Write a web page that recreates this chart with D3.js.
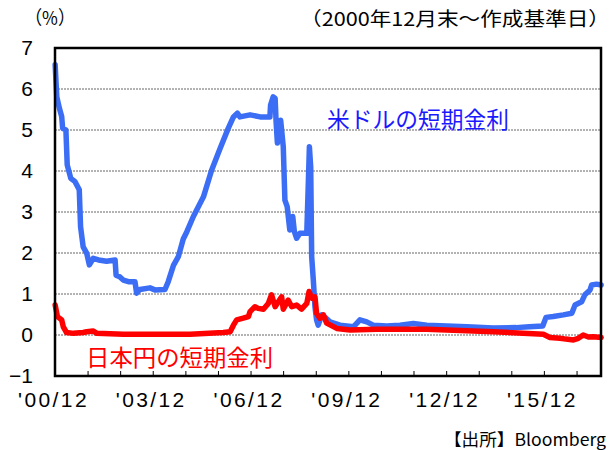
<!DOCTYPE html>
<html><head><meta charset="utf-8">
<script src="https://cdn.jsdelivr.net/npm/d3@7"></script>
<style>body{margin:0;background:#fff}svg{display:block}</style>
</head><body>
<svg id="c" width="613" height="450"></svg>
<script>
// ---- data (decimal year, %) ----
const usdT = [2000.92,2000.97,2001.05,2001.12,2001.15,2001.25,2001.29,2001.40,2001.53,2001.66,2001.70,2001.78,2001.89,2001.97,2002.09,2002.25,2002.50,2002.76,2002.79,2002.90,2003.01,2003.17,2003.37,2003.42,2003.52,2003.83,2003.98,2004.29,2004.39,2004.55,2004.70,2004.85,2004.96,2005.16,2005.47,2005.72,2005.98,2006.23,2006.39,2006.51,2006.59,2006.90,2007.21,2007.51,2007.53,2007.61,2007.67,2007.70,2007.74,2007.80,2007.84,2007.92,2007.97,2008.04,2008.12,2008.21,2008.26,2008.33,2008.43,2008.64,2008.69,2008.72,2008.76,2008.79,2008.84,2008.89,2008.94,2008.99,2009.10,2009.20,2009.35,2009.66,2010.07,2010.27,2010.48,2010.68,2011.09,2011.50,2011.91,2012.32,2012.93,2013.55,2014.36,2015.06,2015.47,2015.88,2015.98,2016.20,2016.51,2016.77,2016.87,2017.07,2017.17,2017.33,2017.38,2017.53,2017.67];
const usdV = [6.59,5.81,5.53,5.33,5.04,5.00,4.15,3.82,3.74,3.54,2.64,2.15,1.99,1.71,1.87,1.83,1.80,1.83,1.46,1.42,1.34,1.30,1.30,1.02,1.11,1.15,1.10,1.11,1.30,1.70,1.91,2.34,2.52,2.89,3.37,4.02,4.55,5.04,5.32,5.41,5.32,5.37,5.32,5.32,5.61,5.81,5.77,5.20,4.68,5.00,5.24,4.59,3.29,3.13,2.56,2.89,2.52,2.36,2.48,2.48,3.78,4.59,4.10,1.91,1.34,0.69,0.37,0.24,0.49,0.43,0.32,0.24,0.20,0.37,0.32,0.24,0.22,0.24,0.28,0.24,0.22,0.20,0.17,0.18,0.20,0.22,0.43,0.45,0.49,0.53,0.73,0.81,0.98,1.10,1.22,1.24,1.22];
const jpyT = [2000.92,2000.99,2001.12,2001.17,2001.27,2001.48,2001.78,2001.89,2002.09,2002.20,2003.01,2004.04,2005.06,2006.08,2006.29,2006.39,2006.49,2006.69,2006.85,2006.90,2007.05,2007.15,2007.31,2007.46,2007.56,2007.67,2007.77,2007.87,2007.92,2008.07,2008.18,2008.33,2008.48,2008.64,2008.71,2008.79,2008.89,2008.94,2009.04,2009.15,2009.25,2009.56,2009.97,2010.78,2012.32,2014.36,2015.90,2016.10,2016.41,2016.59,2016.82,2016.97,2017.12,2017.28,2017.43,2017.67];
const jpyV = [0.73,0.45,0.37,0.20,0.06,0.04,0.06,0.08,0.10,0.04,0.02,0.02,0.02,0.06,0.08,0.24,0.37,0.41,0.45,0.57,0.69,0.65,0.63,0.77,0.98,0.69,0.81,0.93,0.63,0.85,0.69,0.73,0.63,0.77,1.06,0.90,0.93,0.53,0.41,0.49,0.29,0.16,0.12,0.14,0.14,0.08,0.02,-0.06,-0.08,-0.10,-0.12,-0.08,0.00,-0.05,-0.04,-0.06];
const yTickValues = [-1,0,1,2,3,4,5,6,7];
const gridValues = [0,1,2,3,4,5,6];
const xTickYears = d3.range(2000, 2017);
const xLabelYears = [2000,2003,2006,2009,2012,2015];
const usdLabel = "米ドルの短期金利";
const jpyLabel = "日本円の短期金利";
const unitLabel = "（%）";
const periodLabel = "（2000年12月末～作成基準日）";
const sourceLabel = "【出所】Bloomberg";

// ---- helpers ----
function toDate(dy){
  const y = Math.floor(dy);
  const start = new Date(y,0,1), end = new Date(y+1,0,1);
  return new Date(start.getTime() + (dy - y) * (end - start));
}
const usd = usdT.map((t,i)=>({d:toDate(t), v:usdV[i]}));
const jpy = jpyT.map((t,i)=>({d:toDate(t), v:jpyV[i]}));

const L = 55, R = 601, T = 48, B = 376;
const svg = d3.select("#c");
const x = d3.scaleTime().domain([new Date(2000,11,1), new Date(2017,8,1)]).range([L, R]);
const y = d3.scaleLinear().domain([-1, 7]).range([B, T]);

const numFont = "'Liberation Sans', Arial, sans-serif";
const jpFont = "'Noto Sans CJK JP', sans-serif";

// grid
svg.append("g").selectAll("line").data(gridValues).join("line")
  .attr("x1", L).attr("x2", R)
  .attr("y1", d=>y(d)).attr("y2", d=>y(d))
  .attr("stroke", "#666").attr("stroke-width", 1).attr("stroke-dasharray", "2,1");

// y axis labels
const yAxis = d3.axisLeft(y).tickValues(yTickValues).tickSize(0).tickPadding(22)
  .tickFormat(d => d < 0 ? "−" + Math.abs(d) : d);
const gy = svg.append("g").attr("transform", `translate(${L},0)`).call(yAxis);
gy.select(".domain").remove();
gy.selectAll("text").attr("font-family", numFont).attr("font-size", 21).attr("fill", "#000");

// x axis (inner ticks)
const xAxis = d3.axisBottom(x)
  .tickValues(xTickYears.map(yr => new Date(yr, 11, 1)))
  .tickSize(-5).tickPadding(16)
  .tickFormat(d => xLabelYears.includes(d.getFullYear()) ? d3.timeFormat("'%y/%m")(d) : "");
const gx = svg.append("g").attr("transform", `translate(0,${B})`).call(xAxis);
gx.select(".domain").remove();
gx.selectAll("line").attr("stroke", "#000").attr("stroke-width", 1);
gx.selectAll("text").attr("font-family", numFont).attr("font-size", 21).attr("fill", "#000")
  .attr("letter-spacing", "2.4px").attr("dx", "-2");

// lines
const line = d3.line().x(d=>x(d.d)).y(d=>y(d.v));
svg.append("path").datum(usd).attr("d", line).attr("fill","none")
  .attr("stroke", "#3C6EF5").attr("stroke-width", 5.5).attr("stroke-linejoin","round").attr("stroke-linecap","round");
svg.append("path").datum(jpy).attr("d", line).attr("fill","none")
  .attr("stroke", "#FF0000").attr("stroke-width", 5.5).attr("stroke-linejoin","round").attr("stroke-linecap","round");

// frame
svg.append("rect").attr("x", L).attr("y", T).attr("width", R-L).attr("height", B-T)
  .attr("fill","none").attr("stroke","#000").attr("stroke-width", 2.5);

// texts
svg.append("text").attr("x", 327).attr("y", 128).text(usdLabel)
  .attr("font-family", jpFont).attr("font-size", 23).attr("fill", "#1a1aff")
  .attr("textLength", 182).attr("lengthAdjust", "spacingAndGlyphs");
svg.append("text").attr("x", 86).attr("y", 366).text(jpyLabel)
  .attr("font-family", jpFont).attr("font-size", 23).attr("fill", "#ff0000")
  .attr("textLength", 187).attr("lengthAdjust", "spacingAndGlyphs");
svg.append("text").attr("x", 25).attr("y", 25).text(unitLabel)
  .attr("font-family", jpFont).attr("font-size", 19).attr("fill", "#000")
  .attr("textLength", 50).attr("lengthAdjust", "spacingAndGlyphs");
svg.append("text").attr("x", 300).attr("y", 26).text(periodLabel)
  .attr("font-family", jpFont).attr("font-size", 19).attr("fill", "#000")
  .attr("textLength", 310).attr("lengthAdjust", "spacingAndGlyphs");
svg.append("text").attr("x", 444).attr("y", 446).text(sourceLabel)
  .attr("font-family", jpFont).attr("font-size", 17).attr("fill", "#000")
  .attr("textLength", 162).attr("lengthAdjust", "spacingAndGlyphs");
</script>
</body></html>
